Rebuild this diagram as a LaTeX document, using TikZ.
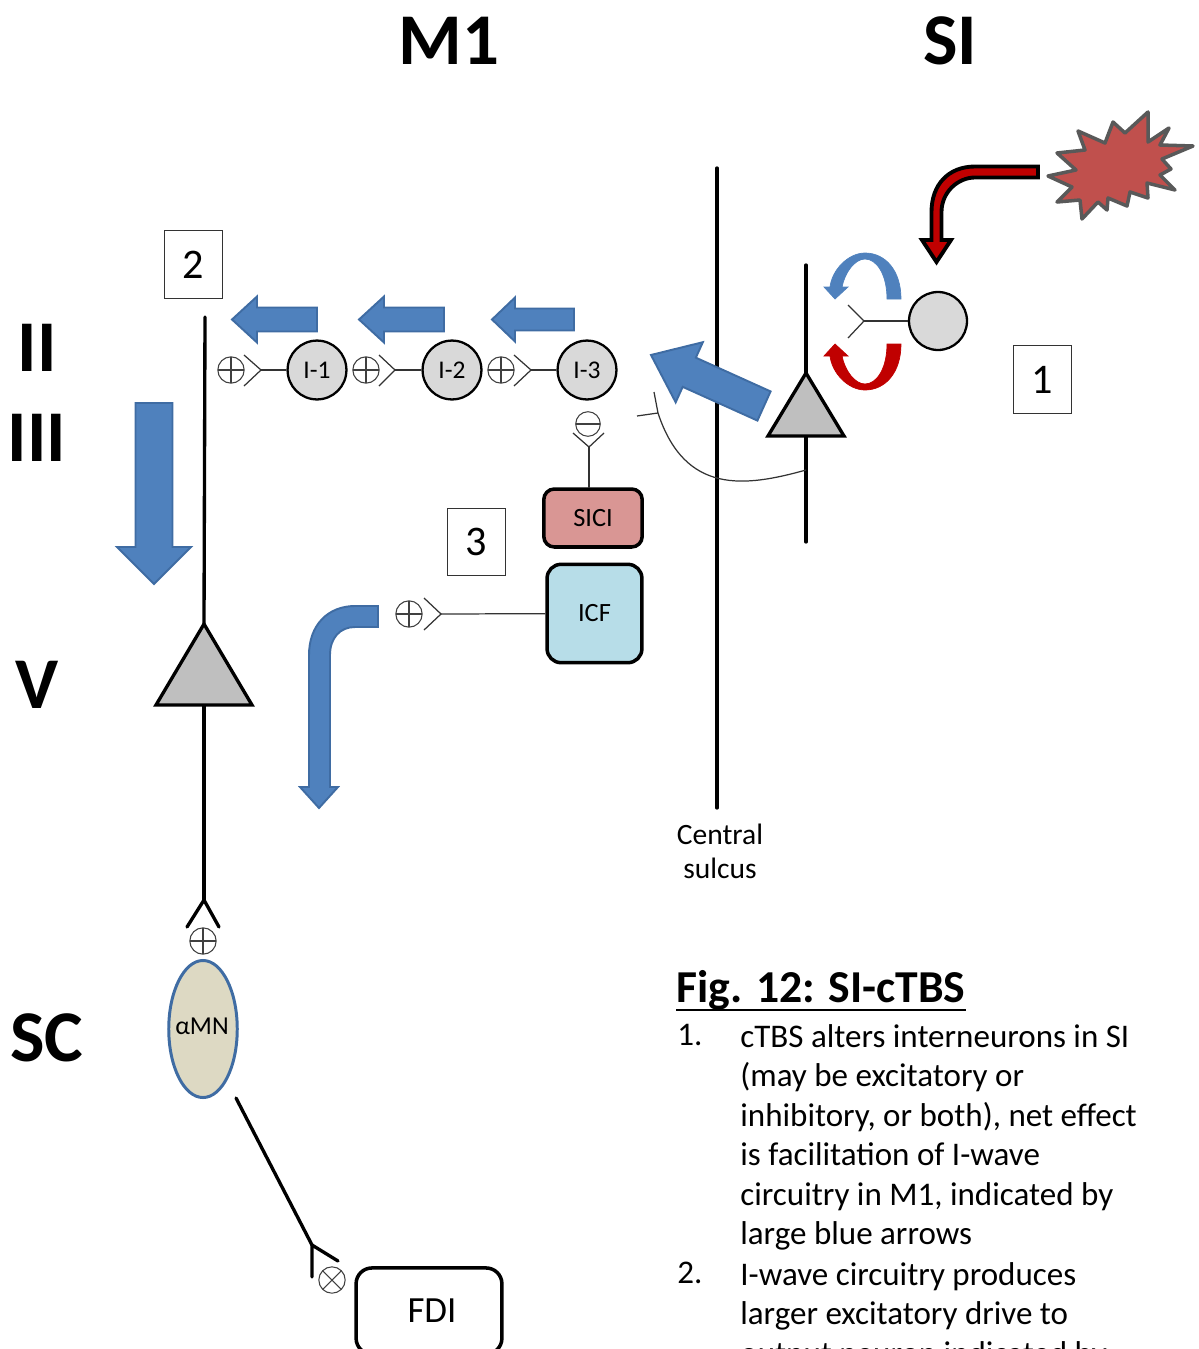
\documentclass[tikz,border=0pt]{standalone}
\usepackage{fontspec}
\setmainfont{Carlito}
\usepackage{tikz}
\usetikzlibrary{positioning, calc, arrows.meta, shapes.geometric}
\definecolor{cellgray}{HTML}{D9D9D9}
\definecolor{somagray}{HTML}{BFBFBF}
\definecolor{fatblue}{HTML}{4F81BD}
\definecolor{fatblueedge}{HTML}{3F6CA3}
\definecolor{fatred}{HTML}{C00000}
\definecolor{burstred}{HTML}{C0504D}
\definecolor{sicired}{HTML}{D99694}
\definecolor{icfblue}{HTML}{B7DDE8}
\definecolor{mnbeige}{HTML}{DDD9C3}
\tikzset{
  axon/.style={line width=1.9pt, line cap=round},
  branch/.style={line width=0.7pt, black!80},
  soma/.style={draw, line width=1.9pt, fill=somagray, line join=miter},
  cell/.style={circle, draw, line width=1.3pt, fill=cellgray, minimum size=33.5pt, inner sep=0pt, font=\fontsize{14.5}{17}\selectfont},
  tagbox/.style={draw, black!80, text=black, line width=0.6pt, minimum width=32.5pt, minimum height=38.5pt, inner sep=0pt, font=\fontsize{24}{28}\selectfont},
  layertext/.style={font=\fontsize{41.5}{46}\selectfont\bfseries, inner sep=0pt},
  poolbox/.style={draw, rounded corners=6pt, line width=2pt, inner sep=0pt, font=\fontsize{15}{18}\selectfont},
  sign/.style={circle, draw, black!75, line width=0.6pt, minimum size=15pt, inner sep=0pt},
  plussign/.style={sign, path picture={\draw[black!75, line width=0.6pt] (path picture bounding box.north) -- (path picture bounding box.south) (path picture bounding box.west) -- (path picture bounding box.east);}},
  minussign/.style={sign, path picture={\draw[black!75, line width=0.6pt] (path picture bounding box.west) -- (path picture bounding box.east);}},
  crosssign/.style={sign, path picture={\draw[black!75, line width=0.6pt] (path picture bounding box.north west) -- (path picture bounding box.south east) (path picture bounding box.north east) -- (path picture bounding box.south west);}},
  bodytext/.style={anchor=north west, inner sep=0pt, align=left, font=\fontsize{18.8}{22.5}\selectfont},
}
% tail x, tail y, angle, length, half shaft, head length, half head
\newcommand{\fatarrow}[7]{%
  \draw[fill=fatblue, draw=fatblueedge, line width=1.1pt, shift={(#1,#2)}, rotate=#3]
    (0,-#5) -- ({#4-#6},-#5) -- ({#4-#6},-#7) -- (#4,0) -- ({#4-#6},#7) -- ({#4-#6},#5) -- (0,#5) -- cycle;
}
\newcommand{\loopcurve}{%
  (901,299) .. controls (901,270) and (885,253) .. (865,253)
  .. controls (848,253) and (832,270) .. (830,287) -- (824,287) -- (835,299) -- (848,287) -- (842,287)
  .. controls (845,272) and (855,259) .. (865,259)
  .. controls (877,259) and (887,275) .. (887,299) -- cycle
}
\begin{document}
\begin{tikzpicture}[x=0.02cm, y=-0.02cm]
    \useasboundingbox (0,0) rectangle (1199,1349);
    \clip (0,0) rectangle (1199,1349);

    % Area and layer headings
    \node[layertext] (m1) at (449,41) {M1};
    \node[layertext] (si) at (950,41) {SI};
    \node[layertext] (layer2) at (37,348) {II};
    \node[layertext] (layer3) at (37,438) {III};
    \node[layertext] (layer5) at (37,685) {V};
    \node[layertext] (layersc) at (47,1038) {SC};

    % Central sulcus
    \coordinate (sulcustop) at (717,168);
    \coordinate (sulcusend) at (717,808);
    \draw[axon] (sulcustop) -- (sulcusend);
    \node[align=center, inner sep=0pt, font=\fontsize{16.8}{19.3}\selectfont] (sulcus) at (720,851) {Central\\sulcus};

    % Stimulus burst and its arrow
    \draw[fill=burstred, draw=black!65, line width=2pt, line join=round]
      (1078,131) -- (1105,143) -- (1113,122) -- (1125,133) -- (1148,112) -- (1148,142) -- (1169,128)
      -- (1160,145) -- (1193,146) -- (1162,159) -- (1171,169) -- (1160,175) -- (1175,190) -- (1147,183)
      -- (1148,198) -- (1130,192) -- (1127,206) -- (1108,198) -- (1107,210) -- (1098,202) -- (1082,219)
      -- (1080,200) -- (1057,202) -- (1072,187) -- (1048,176) -- (1076,170) -- (1057,153) -- (1085,150) -- cycle;
    \draw[fill=fatred, line width=2.2pt, line join=miter]
      (1038,166.5) -- (975,166.5) .. controls (948,166.5) and (931.5,185) .. (931.5,212) -- (931.5,240)
      -- (922,240) -- (936.5,262) -- (951,240) -- (941.5,240) -- (941.5,212)
      .. controls (941.5,192) and (958,177.5) .. (975,177.5) -- (1038,177.5) -- cycle;

    % SI interneuron and output neuron
    \node[cell, minimum size=33pt] (sicell) at (938,321) {};
    \coordinate (sitip) at (864,321);
    \draw[branch] (848,305) -- (sitip) -- (848,338);
    \draw[branch] (sitip) -- (sicell);
    \draw[fill=fatblue, draw=fatblue, line width=0.4pt] \loopcurve;
    \begin{scope}[shift={(0,643)}, yscale=-1]
      \draw[fill=fatred, draw=fatred, line width=0.4pt] \loopcurve;
    \end{scope}
    \coordinate (siapex) at (806,373);
    \coordinate (sitop) at (806,265);
    \coordinate (sibase) at (806,436);
    \coordinate (siend) at (806,542);
    \draw[axon] (sitop) -- (siapex);
    \draw[axon] (sibase) -- (siend);
    \draw[soma] (siapex) -- (768,436) -- (844,436) -- cycle;

    % Projection from SI to M1
    \coordinate (sijoin) at (806,470);
    \coordinate (m1tip) at (658,413);
    \draw[branch] (sijoin) .. controls (745,487) and (685,495) .. (m1tip);
    \draw[branch] (637,416) -- (m1tip) -- (654,392);
    \fatarrow{764}{406}{155.7}{124}{16}{42}{33}

    % I-wave chain
    \node[cell] (i1) at (317,370) {I-1};
    \node[cell] (i2) at (452,370) {I-2};
    \node[cell] (i3) at (587,370) {I-3};
    \coordinate (tip1) at (261,370);
    \coordinate (tip2) at (395,370);
    \coordinate (tip3) at (531,370);
    \draw[branch] (244,355) -- (tip1) -- (244,386);
    \draw[branch] (379,355) -- (tip2) -- (379,386);
    \draw[branch] (514,355) -- (tip3) -- (514,386);
    \draw[branch] (tip1) -- (i1);
    \draw[branch] (tip2) -- (i2);
    \draw[branch] (tip3) -- (i3);
    \node[plussign] (plus1) at (231,370) {};
    \node[plussign] (plus2) at (366,370) {};
    \node[plussign] (plus3) at (501,370) {};
    \fatarrow{317}{319.5}{180}{85}{12}{25}{23}
    \fatarrow{444}{319.5}{180}{85}{12}{25}{23}
    \fatarrow{574}{319.5}{180}{82}{11}{23}{22}

    % SICI and ICF pools
    \node[poolbox, fill=sicired, minimum width=56pt, minimum height=33pt] (sici) at (593,518) {SICI};
    \node[poolbox, fill=icfblue, rounded corners=8pt, minimum width=54pt, minimum height=56pt] (icf) at (594.5,613.5) {ICF};
    \node[minussign, minimum size=14pt] (minus) at (588,424) {};
    \coordinate (sicitip) at (589,447);
    \coordinate (sicifoot) at (589,488);
    \draw[branch] (573,433) -- (sicitip) -- (604,433);
    \draw[branch] (sicitip) -- (sicifoot);
    \coordinate (icftip) at (441,614);
    \draw[branch] (424,598) -- (icftip) -- (424,630);
    \draw[branch] (icftip) -- (icf);
    \node[plussign] (plus4) at (409,614) {};
    \draw[fill=fatblue, draw=fatblueedge, line width=1.1pt]
      (378,606) -- (355,606) .. controls (328,606) and (309,625) .. (309,655) -- (309,787) -- (300,787)
      -- (319,808) -- (338,787) -- (330,787) -- (330,655) .. controls (330,638) and (340,627) .. (355,627)
      -- (378,627) -- cycle;

    % M1 output neuron
    \coordinate (m1top) at (205,317);
    \coordinate (m1apex) at (204,624);
    \coordinate (m1base) at (204,705);
    \coordinate (m1foot) at (204,900);
    \draw[axon] (m1top) -- (m1apex);
    \draw[axon] (m1base) -- (m1foot);
    \draw[axon] (187,927) -- (m1foot) -- (219,927);
    \draw[soma] (m1apex) -- (156,705) -- (252,705) -- cycle;
    \fatarrow{154}{403}{-90}{181}{18.5}{37}{37}

    % Spinal cord and muscle
    \node[plussign] (plus5) at (203,941) {};
    \node[ellipse, draw=fatblueedge, fill=mnbeige, line width=1.7pt, minimum width=39pt, minimum height=78pt, inner sep=0pt] (amn) at (203,1029) {};
    \node[inner sep=0pt, font=\fontsize{14.7}{17}\selectfont] (amntext) at (202,1026) {αMN};
    \coordinate (mnstart) at (236,1098);
    \coordinate (fditip) at (312,1245);
    \draw[axon] (mnstart) -- (fditip);
    \draw[axon] (338,1261) -- (fditip) -- (312,1277);
    \node[crosssign] (cross) at (332,1280) {};
    \node[poolbox, rounded corners=9pt, minimum width=83pt, minimum height=49pt, font=\fontsize{21}{25}\selectfont] (fdi) at (429,1311) {\hspace*{3.4pt}FDI};

    % Numbered tags
    \node[tagbox] (tag1) at (1042.5,379.5) {1};
    \node[tagbox] (tag2) at (193.5,264.5) {2};
    \node[tagbox] (tag3) at (476.5,542) {3};

    % Caption
    \node[anchor=base west, inner sep=0pt, font=\fontsize{26}{30}\selectfont\bfseries] (figtitle) at (676,1002) {Fig. 12: SI-cTBS};
    \draw[line width=1.5pt] (figtitle.west |- 0,1010) -- (figtitle.east |- 0,1010);
    \node[bodytext] (num1) at (677,1024) {1.};
    \node[bodytext] (item1) at (740,1024) {cTBS alters interneurons in SI\\(may be excitatory or\\inhibitory, or both), net effect\\is facilitation of I-wave\\circuitry in M1, indicated by\\large blue arrows};
    \node[bodytext] (num2) at (677,1262) {2.};
    \node[bodytext] (item2) at (740,1262) {I-wave circuitry produces\\larger excitatory drive to\\output neuron indicated by};
\end{tikzpicture}
\end{document}
